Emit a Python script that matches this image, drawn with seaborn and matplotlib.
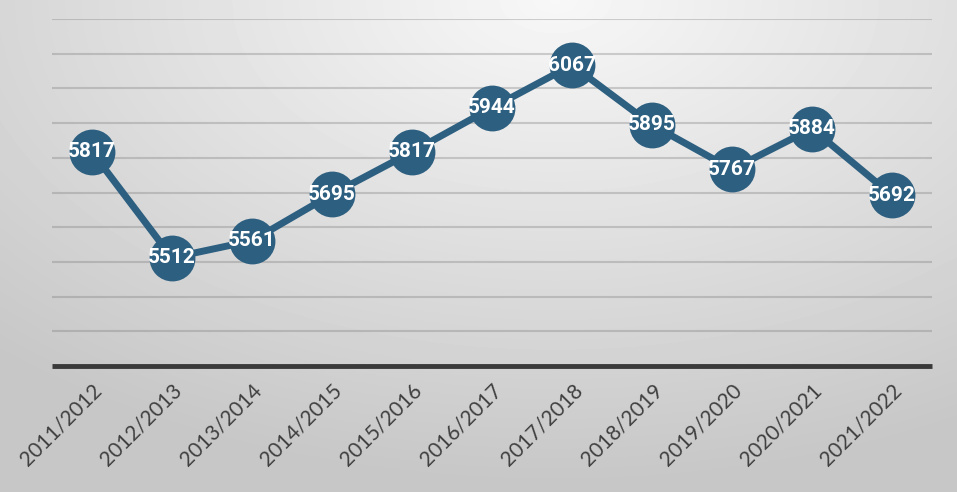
import numpy as np
import pandas as pd
import seaborn as sns
import matplotlib.pyplot as plt

# data
seasons = ["2011/2012", "2012/2013", "2013/2014", "2014/2015", "2015/2016", "2016/2017",
           "2017/2018", "2018/2019", "2019/2020", "2020/2021", "2021/2022"]
counts = [5817, 5512, 5561, 5695, 5817, 5944, 6067, 5895, 5767, 5884, 5692]
y_ticks = [5200, 5300, 5400, 5500, 5600, 5700, 5800, 5900, 6000, 6100, 6200]

df = pd.DataFrame({"season": seasons, "count": counts})

sns.set_theme(style="white")
plt.rcParams["font.family"] = ["Lato", "DejaVu Sans"]

W, H = 957, 492
fig = plt.figure(figsize=(W / 100, H / 100), dpi=100)

# background gradient (light at top centre, grey toward edges)
bg = fig.add_axes([0, 0, 1, 1])
yy, xx = np.mgrid[0:H, 0:W]
d = np.sqrt(((xx - 0.58 * W) / W) ** 2 + ((yy - 0.0 * H) / (H * 1.15)) ** 2)
d = np.clip(d / 0.85, 0, 1)
shade = 0.97 - 0.19 * d
bg.imshow(shade, cmap="gray", vmin=0, vmax=1, aspect="auto", extent=[0, 1, 0, 1])
bg.axis("off")

ax = fig.add_axes([52 / W, 1 - 366 / H, 880 / W, (366 - 19) / H])
ax.patch.set_alpha(0)

main = "#2D5F80"
sns.lineplot(data=df, x="season", y="count", ax=ax, color=main, linewidth=5,
             marker="o", markersize=33, markeredgewidth=0, sort=False, zorder=3)

for i, v in enumerate(counts):
    ax.text(i, v, str(v), ha="center", va="center", color="white",
            fontsize=15, fontweight="bold", family=["Roboto", "DejaVu Sans"], zorder=4)

ax.set_xlim(-0.5, len(seasons) - 0.5)
ax.set_ylim(y_ticks[0], y_ticks[-1])
ax.set_yticks(y_ticks)
for t in y_ticks[1:]:
    ax.axhline(t, color="#707070", alpha=0.3, linewidth=1.5, zorder=1)
ax.axhline(y_ticks[0], color="#3a3a3a", linewidth=3.5, zorder=2, clip_on=False,
           solid_capstyle="butt")

ax.tick_params(axis="y", left=False, labelleft=False)
ax.tick_params(axis="x", bottom=False, pad=4)
ax.set_xticks(range(len(seasons)))
ax.set_xticklabels(seasons, rotation=45, ha="right", rotation_mode="anchor",
                   fontsize=15, color="#404040")
ax.set_xlabel("")
ax.set_ylabel("")
for s in ax.spines.values():
    s.set_visible(False)

fig.savefig("out.png", dpi=100)
